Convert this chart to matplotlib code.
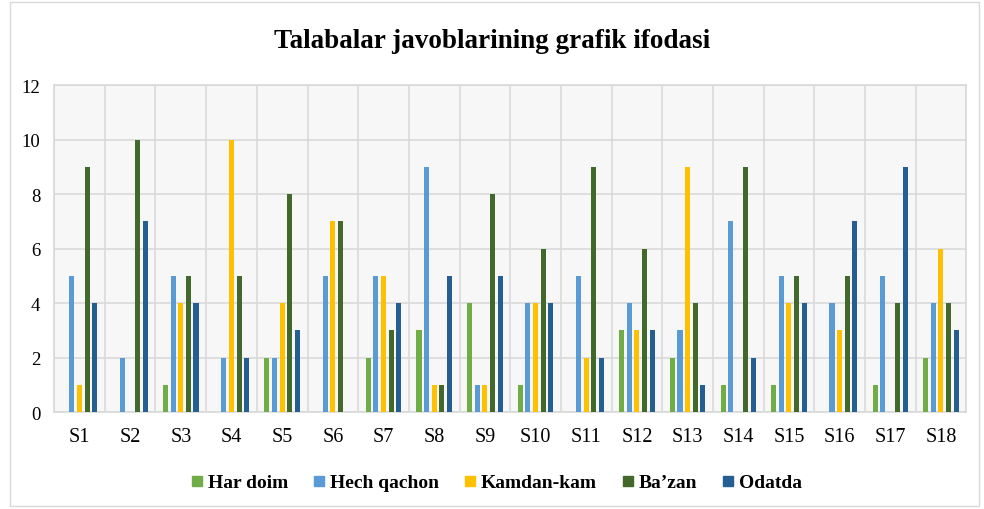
import matplotlib
matplotlib.use("Agg")
import matplotlib.pyplot as plt
import matplotlib.patches as mpatches
from matplotlib.lines import Line2D
import numpy as np

plt.rcParams['font.family'] = ['Liberation Serif', 'DejaVu Serif']
plt.rcParams['hatch.color'] = '#e4e4e4'
plt.rcParams['hatch.linewidth'] = 0.6

categories = ['S%d' % i for i in range(1, 19)]
series_names = ['Har doim', 'Hech qachon', 'Kamdan-kam', 'Ba\u2019zan', 'Odatda']
colors = ['#70ad47', '#5b9bd5', '#ffc000', '#43682b', '#255e91']

har_doim    = [0, 0, 1, 0, 2, 0, 2, 3, 4, 1, 0, 3, 2, 1, 1, 0, 1, 2]
hech_qachon = [5, 2, 5, 2, 2, 5, 5, 9, 1, 4, 5, 4, 3, 7, 5, 4, 5, 4]
kamdan_kam  = [1, 0, 4, 10, 4, 7, 5, 1, 1, 4, 2, 3, 9, 0, 4, 3, 0, 6]
bazan       = [9, 10, 5, 5, 8, 7, 3, 1, 8, 6, 9, 6, 4, 9, 5, 5, 4, 4]
odatda      = [4, 7, 4, 2, 3, 0, 4, 5, 5, 4, 2, 3, 1, 2, 4, 7, 9, 3]
series = [har_doim, hech_qachon, kamdan_kam, bazan, odatda]

fig = plt.figure(figsize=(9.84, 5.10), dpi=100)
ax = fig.add_axes([0.055, 0.19, 0.927, 0.641])

# chart border
fig.patches.append(mpatches.Rectangle((0.01, 0.005), 0.985, 0.99, transform=fig.transFigure,
                                      fill=False, edgecolor='#d9d9d9', linewidth=1))

ax.set_facecolor('#f7f7f7')
ax.patch.set_hatch('//////')

x = np.arange(len(categories))
step = 0.15
width = 0.1
for i, (vals, name, col) in enumerate(zip(series, series_names, colors)):
    ax.bar(x + (i - 2) * step, vals, width, color=col, label=name, zorder=3)

ax.set_xlim(-0.5, len(categories) - 0.5)
ax.set_ylim(0, 12)
ax.set_yticks(range(0, 13, 2))
ax.set_xticks(x)
ax.set_xticklabels(categories)
ax.set_xticks(np.arange(-0.5, len(categories), 1), minor=True)
ax.grid(which='minor', axis='x', color='#d9d9d9', linewidth=1.2, zorder=1)
ax.grid(which='major', axis='y', color='#d9d9d9', linewidth=1.2, zorder=1)
ax.tick_params(which='both', length=0)
ax.tick_params(axis='x', labelsize=14.5, pad=11)
ax.tick_params(axis='y', labelsize=13.5, pad=10)
for s in ax.spines.values():
    s.set_color('#d9d9d9')
    s.set_linewidth(1.2)

fig.suptitle('Talabalar javoblarining grafik ifodasi', y=0.943, fontsize=19.5, fontweight='bold')

handles = [Line2D([], [], marker='s', linestyle='none', markersize=7.5,
                  markerfacecolor=c, markeredgecolor=c) for c in colors]
ax.legend(handles, series_names, loc='upper center', bbox_to_anchor=(0.485, -0.135), ncol=5,
          frameon=False, prop={'weight': 'bold', 'size': 14}, handlelength=0.6,
          handletextpad=0.25, columnspacing=1.3)

fig.savefig('out.png', dpi=100)
